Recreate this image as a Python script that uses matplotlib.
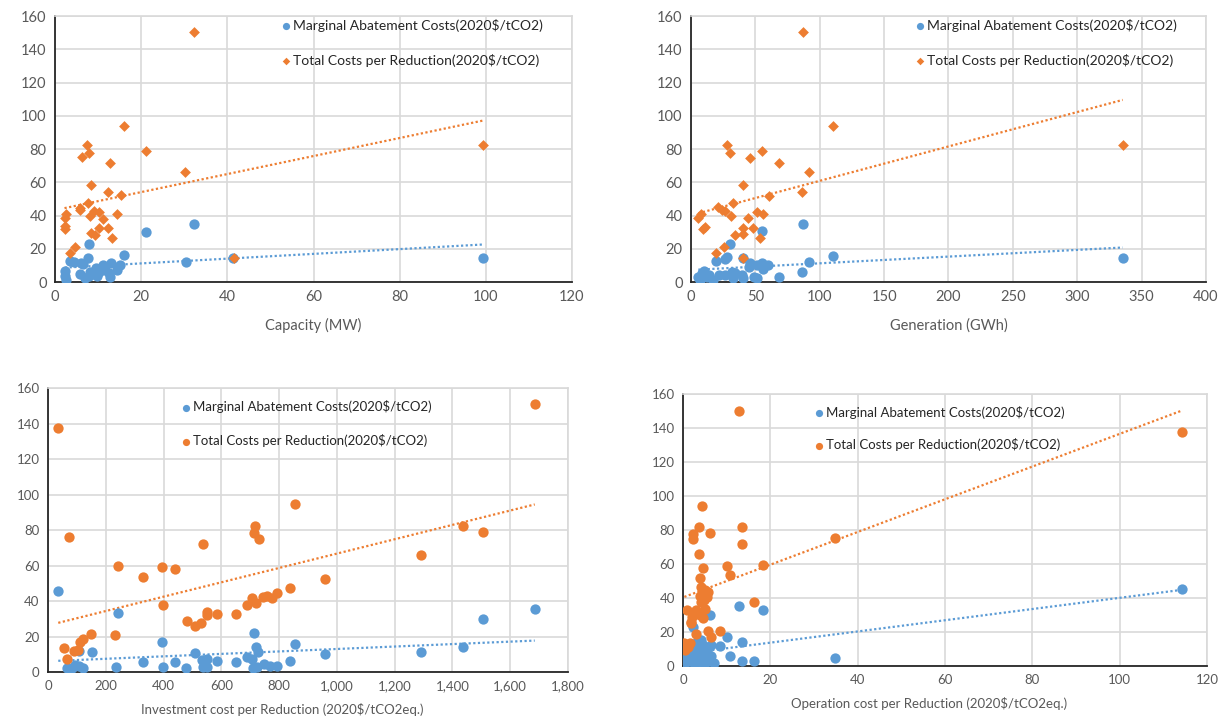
import matplotlib
matplotlib.use('Agg')
import matplotlib.pyplot as plt
from matplotlib.ticker import FuncFormatter
import numpy as np

plt.rcParams['font.family'] = ['Lato', 'DejaVu Sans']

# Capacity (MW) panel
cap_mac_x = [32.3, 21.1, 7.8, 16.0, 3.5, 4.5, 6.0, 7.6, 6.6, 13.0, 15.0, 11.2, 10.8, 2.3, 2.3, 5.8,
             8.1, 8.9, 10.1, 8.0, 9.7, 11.6, 12.6, 14.3, 12.8, 2.5, 30.4, 41.3, 99.4, 9.5, 7.0]
cap_mac_y = [34.9, 30.3, 22.8, 16.0, 12.8, 12.2, 11.5, 14.6, 10.6, 11.6, 10.2, 10.0, 9.0, 6.8, 3.8, 5.0,
             6.2, 5.6, 6.0, 3.8, 3.8, 7.2, 5.2, 7.2, 3.2, 1.2, 12.2, 14.4, 14.2, 8.5, 2.5]
cap_tcr_x = [32.3, 16.0, 7.5, 7.8, 6.3, 21.1, 12.8, 30.2, 8.4, 12.2, 15.2, 7.7, 5.8, 5.7, 2.6, 2.2,
             9.0, 10.2, 8.1, 11.1, 14.3, 2.4, 2.2, 10.2, 12.2, 8.3, 9.3, 13.2, 4.7, 3.4, 41.5, 99.4]
cap_tcr_y = [150.4, 93.8, 82.6, 77.8, 75.0, 78.6, 71.8, 66.4, 58.2, 54.1, 52.1, 47.7, 44.5, 43.3, 40.7, 38.3,
             42.5, 41.9, 39.7, 38.1, 41.1, 33.7, 32.0, 32.7, 32.7, 29.3, 28.1, 26.7, 21.3, 17.7, 14.6, 82.4]

# Generation (GWh) panel
gen_mac_x = [87.0, 54.9, 30.3, 110.0, 91.4, 19.4, 26.4, 28.2, 40.1, 45.8, 45.3, 51.0, 54.9, 60.0, 86.2,
             68.6, 5.7, 12.2, 8.3, 22.0, 26.4, 31.6, 34.2, 32.4, 39.4, 40.6, 48.9, 51.0, 56.2, 335.3,
             10.0, 7.0, 14.0, 17.0]
gen_mac_y = [34.9, 30.7, 22.9, 15.8, 12.0, 12.6, 13.7, 14.9, 14.5, 11.2, 9.2, 10.2, 11.2, 10.2, 5.8,
             2.8, 2.8, 2.8, 5.2, 4.0, 4.0, 6.2, 5.2, 2.6, 4.2, 2.6, 3.2, 2.6, 7.6, 14.2,
             6.5, 1.5, 4.5, 1.5]
gen_tcr_x = [87.0, 110.0, 28.2, 30.3, 54.9, 45.8, 68.6, 91.4, 40.1, 86.2, 60.8, 32.4, 20.7, 23.8, 26.4, 7.5,
             5.7, 51.0, 55.7, 31.3, 44.3, 10.6, 9.1, 40.1, 48.4, 34.4, 40.1, 53.9, 25.4, 19.4, 40.1, 335.3]
gen_tcr_y = [150.4, 93.8, 82.6, 77.8, 78.6, 74.8, 71.8, 66.4, 58.2, 54.0, 51.9, 47.3, 44.9, 43.3, 42.7, 40.9,
             38.3, 41.9, 41.1, 39.7, 38.3, 33.3, 31.7, 32.7, 32.7, 28.3, 28.7, 26.7, 21.3, 17.7, 14.6, 82.4]

# Investment cost per reduction panel
inv_mac_x = [35.7, 241, 395.8, 151, 108.6, 64.7, 82, 108.6, 120, 93.5, 234.4, 330, 399.3, 439.6, 477.7,
             508.8, 532, 549.3, 535.5, 549.3, 584, 649.7, 687.8, 705, 714, 720, 728, 710.7, 724.6, 747.7,
             768.5, 793.8, 837.7, 855, 960, 1290, 1438, 1505, 1685]
inv_mac_y = [45.8, 33.0, 17.1, 11.4, 11.8, 2.1, 2.4, 3.4, 2.1, 3.9, 2.6, 5.5, 2.6, 5.5, 2.1,
             10.5, 6.8, 7.2, 3.0, 2.6, 6.2, 5.5, 8.6, 7.2, 22.1, 14.3, 11.4, 2.1, 3.0, 4.3,
             3.4, 3.4, 6.2, 15.6, 10.0, 11.4, 14.3, 30.0, 35.3]
inv_tcr_x = [35.7, 73.8, 56.5, 66.9, 90, 105, 110.8, 120, 148.8, 233, 242.3, 330, 395.8, 399.3, 438.5,
             480, 508.8, 530.8, 535.5, 551.5, 551.5, 584, 649.7, 687.8, 705, 720, 713, 717.6, 729.3,
             745.3, 757, 774.3, 793.8, 837.7, 855, 960, 1290, 1438, 1505, 1685]
inv_tcr_y = [137.3, 75.9, 13.7, 7.3, 12.0, 12.4, 17.1, 18.6, 21.4, 20.7, 59.9, 53.5, 59.2, 37.7, 57.9,
             28.7, 26.1, 27.6, 72.1, 33.8, 31.9, 32.7, 32.7, 37.7, 41.5, 39.0, 78.1, 82.4, 74.9,
             42.4, 42.8, 41.5, 44.3, 47.2, 94.5, 52.2, 65.7, 82.4, 78.7, 151.2]

# Operation cost per reduction panel
opr_mac_x = [114.3, 34.7, 12.8, 18.3, 6.1, 2.3, 10.1, 13.4, 6.5, 8.4, 10.7, 13.4, 16.3, 4.2, 4.6,
             0.5, 1.0, 1.5, 2.0, 2.5, 3.0, 3.0, 3.5, 3.8, 4.0, 4.2, 4.5, 5.0, 5.0, 5.5, 6.0, 6.5, 7.0,
             2.0, 3.3, 0.3, 1.2, 2.8, 4.8]
opr_mac_y = [45.3, 4.5, 35.3, 32.9, 30.0, 22.8, 17.3, 14.3, 12.4, 11.9, 5.9, 3.1, 3.1, 15.3, 12.4,
             2.0, 4.0, 3.0, 6.0, 1.5, 8.0, 3.0, 10.0, 1.0, 5.0, 13.0, 7.0, 2.0, 4.0, 9.0, 3.0, 6.0, 2.0,
             11.0, 14.0, 5.0, 8.0, 1.0, 1.5]
opr_tcr_x = [114.3, 12.8, 4.4, 3.6, 13.4, 6.2, 2.3, 2.3, 34.7, 13.4, 3.6, 10.1, 10.8, 18.4, 4.6, 3.8,
             4.2, 5.0, 5.7, 4.6, 3.8, 4.4, 5.6, 4.8, 4.1, 0.8, 3.0, 5.0, 3.8, 2.1, 4.6, 1.8, 1.9,
             16.3, 5.7, 6.5, 8.4, 3.0, 0.3, 1.6, 0.5, 1.1]
opr_tcr_y = [137.4, 150.0, 94.1, 81.9, 81.9, 78.4, 77.6, 74.7, 75.3, 71.8, 65.7, 58.8, 53.5, 59.4, 57.5, 51.6,
             46.7, 44.7, 43.7, 43.1, 41.2, 40.4, 40.8, 38.8, 37.8, 32.9, 32.9, 33.3, 30.0, 29.0, 28.0, 26.1, 25.5,
             37.8, 20.8, 17.3, 20.8, 18.8, 13.7, 13.4, 9.4, 11.4]

lab_mac = 'Marginal Abatement Costs(2020$/tCO2)'
lab_tcr = 'Total Costs per Reduction(2020$/tCO2)'
blue = '#5B9BD5'
orange = '#ED7D31'
grid_c = '#D9D9D9'
txt_c = '#595959'


def trend(ax, x, y, color):
    # linear trendline over the data range, like excel
    x = np.array(x)
    k, b = np.polyfit(x, np.array(y), 1)
    xs = np.array([x.min(), x.max()])
    ax.plot(xs, k * xs + b, color=color, lw=1.6, ls=(0, (1, 1.1)), zorder=2)


def panel(rect, mx, my, tx, ty, xmax, xstep, xlabel, tmark, fs, lfs, leg_x, leg_y, leg_sp, ms,
          xlab_x=0.5, lpad=8, comma=False):
    ax = fig.add_axes(rect)
    ax.scatter(mx, my, s=ms, color=blue, marker='o', lw=0, label=lab_mac, zorder=3)
    ax.scatter(tx, ty, s=ms * 0.55 if tmark == 'D' else ms, color=orange, marker=tmark, lw=0,
               label=lab_tcr, zorder=3)
    trend(ax, mx, my, blue)
    trend(ax, tx, ty, orange)
    ax.set_xlim(0, xmax)
    ax.set_ylim(0, 160)
    ax.set_xticks(np.arange(0, xmax + 1, xstep))
    ax.set_yticks(np.arange(0, 161, 20))
    if comma:
        ax.xaxis.set_major_formatter(FuncFormatter(lambda v, p: '{:,.0f}'.format(v)))
    ax.grid(True, color=grid_c, lw=1.2, zorder=0)
    ax.set_axisbelow(True)
    for s in ['top', 'right']:
        ax.spines[s].set_color(grid_c)
        ax.spines[s].set_linewidth(1.2)
    for s in ['left', 'bottom']:
        ax.spines[s].set_color('#262626')
        ax.spines[s].set_linewidth(1.3)
    ax.tick_params(length=0, labelsize=fs, colors=txt_c, pad=6)
    ax.set_xlabel(xlabel, fontsize=fs, color=txt_c, labelpad=lpad, x=xlab_x)
    ax.legend(loc='upper left', bbox_to_anchor=(leg_x, leg_y), frameon=False, fontsize=lfs,
              labelspacing=leg_sp, handletextpad=0.1, handlelength=0.8, borderpad=0.1,
              markerscale=0.7, labelcolor='#262626')
    return ax


fig = plt.figure(figsize=(12.23, 7.25), dpi=100)

panel([0.045, 0.611, 0.4227, 0.3669], cap_mac_x, cap_mac_y, cap_tcr_x, cap_tcr_y,
      120, 20, 'Capacity (MW)', 'D', 10.5, 10, 0.42, 1.022, 1.6, 55, lpad=10)
panel([0.565, 0.611, 0.4211, 0.3669], gen_mac_x, gen_mac_y, gen_tcr_x, gen_tcr_y,
      400, 50, 'Generation (GWh)', 'D', 10.5, 10, 0.418, 1.022, 1.6, 55, lpad=10)
panel([0.0392, 0.0731, 0.4252, 0.3917], inv_mac_x, inv_mac_y, inv_tcr_x, inv_tcr_y,
      1800, 200, 'Investment cost per Reduction (2020$/tCO2eq.)', 'o', 9.5, 9.5, 0.24, 0.985, 1.6, 55,
      xlab_x=0.45, comma=True)
panel([0.5585, 0.0814, 0.4284, 0.3752], opr_mac_x, opr_mac_y, opr_tcr_x, opr_tcr_y,
      120, 20, 'Operation cost per Reduction (2020$/tCO2eq.)', 'o', 9.5, 9.5, 0.235, 0.985, 1.45, 55,
      xlab_x=0.47)

fig.savefig('out.png', dpi=100)
